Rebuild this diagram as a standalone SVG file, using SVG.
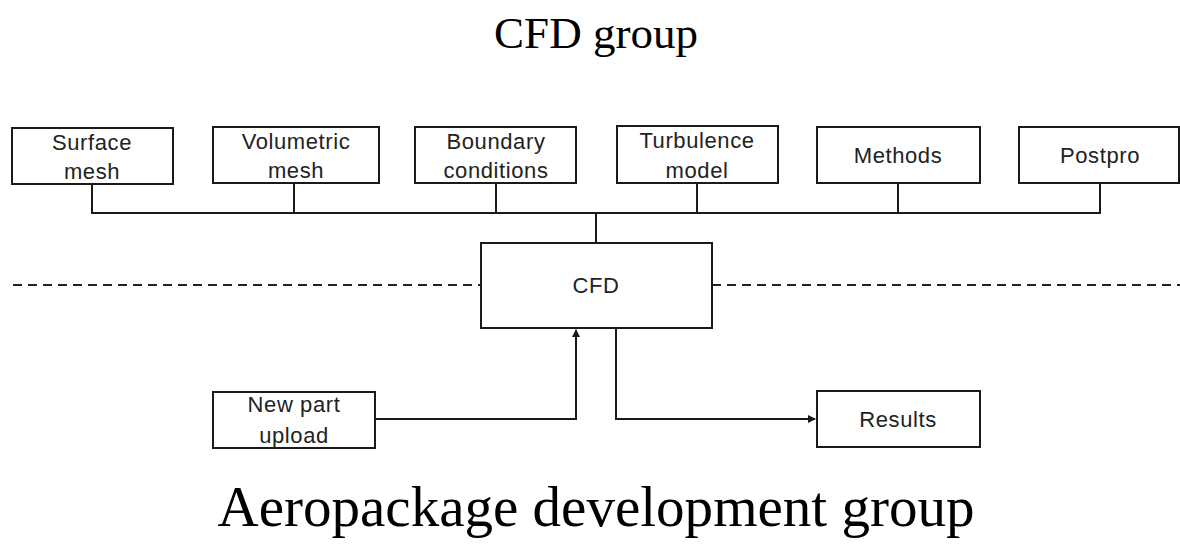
<svg xmlns="http://www.w3.org/2000/svg" width="1180" height="546" viewBox="0 0 1180 546">
<style>
.box{fill:#fff;stroke:#1a1a1a;stroke-width:2}
.lbl{font-family:"Liberation Sans",Arial,sans-serif;font-size:22px;letter-spacing:0.6px;fill:#222;text-anchor:middle}
.ttl{font-family:"Liberation Serif","Times New Roman",serif;fill:#000;text-anchor:middle}
.ln{fill:none;stroke:#1a1a1a;stroke-width:2}
.dash{fill:none;stroke:#222;stroke-width:2;stroke-dasharray:9 6}
</style>
<defs>
<marker id="ah" markerWidth="8" markerHeight="8" refX="7" refY="4" orient="auto" markerUnits="userSpaceOnUse">
<path d="M0,0 L8,4 L0,8 z" fill="#1a1a1a"/>
</marker>
</defs>
<rect width="1180" height="546" fill="#fff"/>
<text class="ttl" x="596" y="48" font-size="45">CFD group</text>
<text class="ttl" x="596" y="526" font-size="56" textLength="757" lengthAdjust="spacingAndGlyphs">Aeropackage development group</text>
<g id="connectors">
<path class="dash" d="M13,285 H481"/>
<path class="dash" d="M712,285 H1180"/>
<path class="ln" d="M92,184 V213 H1100 V183"/>
<path class="ln" d="M294,183 V213"/>
<path class="ln" d="M496,183 V213"/>
<path class="ln" d="M697,183 V213"/>
<path class="ln" d="M898,183 V213"/>
<path class="ln" d="M596,213 V243"/>
<path class="ln" d="M375,419 H576 V330" marker-end="url(#ah)"/>
<path class="ln" d="M616,328 V419 H815" marker-end="url(#ah)"/>
</g>
<g id="surface-mesh"><rect class="box" x="12" y="128" width="161" height="56"/><text class="lbl" x="92" y="150">Surface</text><text class="lbl" x="92" y="179">mesh</text></g>
<g id="volumetric-mesh"><rect class="box" x="213" y="127" width="166" height="56"/><text class="lbl" x="296" y="149">Volumetric</text><text class="lbl" x="296" y="178">mesh</text></g>
<g id="boundary-conditions"><rect class="box" x="415" y="127" width="161" height="56"/><text class="lbl" x="496" y="149">Boundary</text><text class="lbl" x="496" y="178">conditions</text></g>
<g id="turbulence-model"><rect class="box" x="617" y="126" width="161" height="57"/><text class="lbl" x="697" y="148">Turbulence</text><text class="lbl" x="697" y="178">model</text></g>
<g id="methods"><rect class="box" x="817" y="127" width="163" height="56"/><text class="lbl" x="898" y="163">Methods</text></g>
<g id="postpro"><rect class="box" x="1019" y="127" width="160" height="56"/><text class="lbl" x="1100" y="163">Postpro</text></g>
<g id="cfd"><rect class="box" x="481" y="243" width="231" height="85"/><text class="lbl" x="596" y="293">CFD</text></g>
<g id="new-part-upload"><rect class="box" x="213" y="392" width="162" height="56"/><text class="lbl" x="294" y="412">New part</text><text class="lbl" x="294" y="443">upload</text></g>
<g id="results"><rect class="box" x="817" y="391" width="163" height="56"/><text class="lbl" x="898" y="427">Results</text></g>
</svg>
